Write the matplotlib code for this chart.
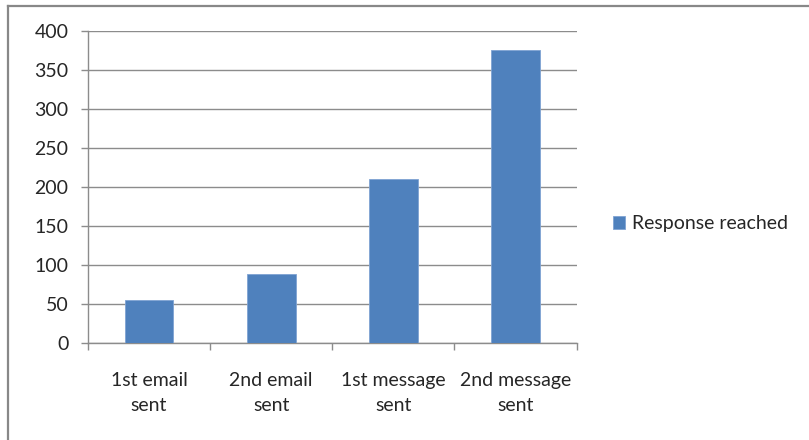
import matplotlib
matplotlib.use("Agg")
import matplotlib.pyplot as plt
from matplotlib.lines import Line2D
from matplotlib.patches import Patch

categories = ["1st email\nsent", "2nd email\nsent", "1st message\nsent", "2nd message\nsent"]
responses = [55, 88, 210, 376]
series_name = "Response reached"
y_ticks = [0, 50, 100, 150, 200, 250, 300, 350, 400]

BAR = "#4f81bd"
GRID = "#8c8c8c"
TEXT = "#262626"
FS = 14

plt.rcParams["font.family"] = ["Lato", "DejaVu Sans"]

W, H = 809, 440
fig = plt.figure(figsize=(W / 100, H / 100), dpi=100)
ax = fig.add_axes([88 / W, (H - 343) / H, 488.5 / W, 312 / H])

x = list(range(len(categories)))
ax.bar(x, responses, width=0.4, color=BAR, edgecolor="#7fa3d3", linewidth=0.6, zorder=3)

ax.set_xlim(-0.5, len(categories) - 0.5)
ax.set_ylim(0, 400)
ax.set_yticks(y_ticks)
ax.set_yticklabels([str(v) for v in y_ticks])
ax.yaxis.grid(True, color=GRID, linewidth=1.0, zorder=0)

for side in ["top", "right"]:
    ax.spines[side].set_visible(False)
for side in ["left", "bottom"]:
    ax.spines[side].set_color(GRID)
    ax.spines[side].set_linewidth(1.0)

ax.tick_params(axis="y", length=5, width=1, color=GRID, pad=9,
               labelsize=FS, labelcolor=TEXT)
ax.set_xticks(x)
ax.set_xticklabels(categories, linespacing=1.55)
ax.tick_params(axis="x", which="major", length=0, pad=21,
               labelsize=FS, labelcolor=TEXT)
ax.set_xticks([i - 0.5 for i in range(len(categories) + 1)], minor=True)
ax.tick_params(axis="x", which="minor", length=5, width=1, color=GRID)

handle = Patch(facecolor=BAR, edgecolor="#7fa3d3", linewidth=0.6)
fig.legend([handle], [series_name], loc="center left",
           bbox_to_anchor=(613 / W, 1 - 224 / H), frameon=False,
           borderpad=0, borderaxespad=0,
           fontsize=FS, handlelength=0.62, handleheight=0.62,
           handletextpad=0.36, labelcolor=TEXT)

# outer chart frame (top and left edges visible)
fig.add_artist(Line2D([8 / W, 1], [1 - 6.5 / H, 1 - 6.5 / H], color="#888888", linewidth=1.6))
fig.add_artist(Line2D([8 / W, 8 / W], [0, 1 - 6.5 / H], color="#888888", linewidth=1.6))

fig.savefig("out.png", dpi=100, facecolor="white")
